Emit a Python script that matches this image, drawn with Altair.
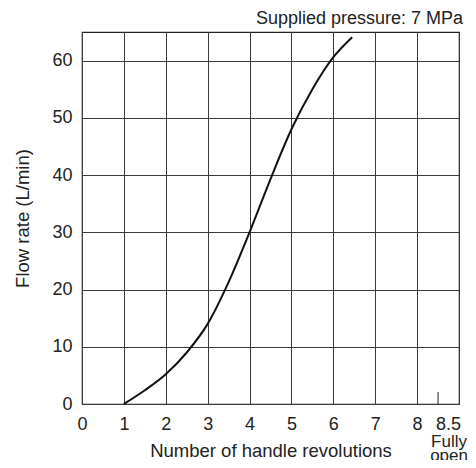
import altair as alt
import pandas as pd

# Curve
revolutions = [1.0, 1.5, 2.0, 2.5, 3.0, 3.5, 4.0, 4.5, 5.0, 5.5, 6.0, 6.45]
flow_rate = [0.0, 2.4, 5.2, 9.0, 14.0, 21.3, 30.0, 39.3, 48.0, 55.0, 60.6, 64.1]

# Axes
x_ticks = [0, 1, 2, 3, 4, 5, 6, 7, 8, 8.5]
y_ticks = [0, 10, 20, 30, 40, 50, 60]

# "Fully open" marker
open_x = [8.5]
open_y = [0]
open_y2 = [2.1]
open_label = ["Fully\nopen"]

FONT = "Liberation Sans"
TEXT = "#222222"
GRID = "#3a3a3a"

curve = pd.DataFrame({"rev": revolutions, "flow": flow_rate})
marker = pd.DataFrame({"rev": open_x, "y0": open_y, "y1": open_y2, "label": open_label})

xscale = alt.Scale(domain=[0, 9], nice=False, zero=False)
yscale = alt.Scale(domain=[0, 65], nice=False)

x_axis = alt.Axis(
    values=x_ticks,
    labelExpr="datum.value == 8.5 ? '8.5' : format(datum.value, 'd')",
    title="Number of handle revolutions",
    grid=True,
    gridColor=GRID,
    gridOpacity=alt.condition("datum.value == 8.5", alt.value(0), alt.value(1)),
    ticks=False,
    domain=False,
    labelPadding=11,
    labelFontSize=18,
    labelColor=TEXT,
    labelOffset=alt.condition("datum.value == 8.5", alt.value(10), alt.value(0)),
    labelFlush=False,
    labelOverlap=False,
    titleFontSize=18.5,
    titleFontWeight="normal",
    titleColor=TEXT,
    titlePadding=8,
)

y_axis = alt.Axis(
    values=y_ticks,
    title="Flow rate (L/min)",
    grid=True,
    gridColor=GRID,
    ticks=False,
    domain=False,
    labelPadding=10,
    labelFontSize=18,
    labelColor=TEXT,
    titleFontSize=18.5,
    titleFontWeight="normal",
    titleColor=TEXT,
    titlePadding=19,
)

line = alt.Chart(curve).mark_line(
    color="#111111", strokeWidth=2, interpolate="monotone"
).encode(
    x=alt.X("rev:Q", scale=xscale, axis=x_axis),
    y=alt.Y("flow:Q", scale=yscale, axis=y_axis),
)

tick = alt.Chart(marker).mark_rule(color="#222222", strokeWidth=1).encode(
    x=alt.X("rev:Q", scale=xscale, axis=x_axis),
    y=alt.Y("y0:Q", scale=yscale, axis=y_axis),
    y2="y1:Q",
)

label = alt.Chart(marker).mark_text(
    font=FONT, fontSize=17, color=TEXT, align="center", baseline="alphabetic",
    dx=11, dy=43, lineHeight=14, lineBreak="\n",
).encode(
    x=alt.X("rev:Q", scale=xscale, axis=x_axis),
    y=alt.Y("y0:Q", scale=yscale, axis=y_axis),
    text="label:N",
)

chart = alt.layer(line, tick, label).properties(
    width=377,
    height=372,
    title=alt.TitleParams(
        "Supplied pressure: 7 MPa",
        anchor="end",
        frame="group",
        fontSize=18,
        fontWeight="normal",
        color=TEXT,
        font=FONT,
        offset=4,
        dx=4,
    ),
    autosize=alt.AutoSizeParams(type="none"),
    padding={"left": 74, "top": 24, "right": 9, "bottom": 56},
).configure(
    font=FONT,
).configure_view(
    stroke="#222222", strokeWidth=1.2
)

chart.save("out.html", embed_options={"renderer": "svg", "actions": False})
